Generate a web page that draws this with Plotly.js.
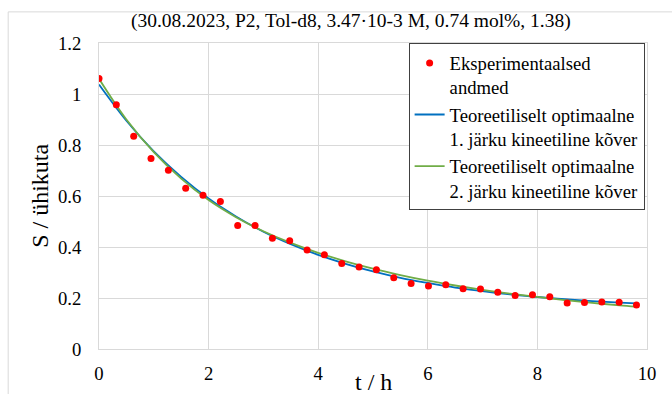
<!DOCTYPE html>
<html>
<head>
<meta charset="utf-8">
<script src="https://cdn.plot.ly/plotly-3.0.1.min.js"></script>
<style>html,body{margin:0;padding:0;background:#fff;}#chart{width:672px;height:394px;}</style>
</head>
<body>
<div id="chart"></div>
<script>
// Experimental data
var tData = [0, 0.316, 0.633, 0.949, 1.266, 1.582, 1.898, 2.215, 2.531, 2.848, 3.164, 3.48, 3.797, 4.113, 4.43, 4.746,
             5.062, 5.379, 5.695, 6.012, 6.328, 6.644, 6.961, 7.277, 7.594, 7.91, 8.226, 8.543, 8.859, 9.176, 9.492, 9.808];
var sData = [1.061, 0.958, 0.834, 0.747, 0.701, 0.630, 0.603, 0.578, 0.484, 0.484, 0.434, 0.425, 0.388, 0.370, 0.335, 0.322,
             0.311, 0.279, 0.257, 0.247, 0.252, 0.236, 0.235, 0.223, 0.210, 0.213, 0.205, 0.180, 0.182, 0.184, 0.183, 0.173];
// Fitted curves
var tFit = [0, 0.5, 1, 1.5, 2, 2.5, 3, 3.5, 4, 4.5, 5, 5.5, 6, 6.5, 7, 7.5, 8, 8.5, 9, 9.5, 9.8];
var sFirst = [1.037, 0.895, 0.775, 0.675, 0.590, 0.520, 0.460, 0.411, 0.369, 0.334, 0.304, 0.279, 0.259, 0.241, 0.227, 0.214, 0.204, 0.195, 0.188, 0.182, 0.179];
var sSecond = [1.060, 0.900, 0.772, 0.668, 0.584, 0.517, 0.462, 0.416, 0.377, 0.344, 0.315, 0.290, 0.268, 0.249, 0.232, 0.217, 0.204, 0.192, 0.181, 0.171, 0.166];
var xTicks = [0, 2, 4, 6, 8, 10];
var yTicks = [0, 0.2, 0.4, 0.6, 0.8, 1, 1.2];
var yTickText = ['0', '0.2', '0.4', '0.6', '0.8', '1', '1.2'];

var names = ['Eksperimentaalsed<br>andmed', 'Teoreetiliselt optimaalne<br>1. järku kineetiline kõver', 'Teoreetiliselt optimaalne<br>2. järku kineetiline kõver'];
var titleText = '(30.08.2023, P2, Tol-d8, 3.47·10-3 M, 0.74 mol%, 1.38)';

var FONT = '"Liberation Serif", serif';

var traces = [
  {x: tFit, y: sFirst, type: 'scatter', mode: 'lines', name: names[1], legendrank: 2,
   line: {color: '#0070C0', width: 1.8, shape: 'spline'}, hoverinfo: 'skip'},
  {x: tFit, y: sSecond, type: 'scatter', mode: 'lines', name: names[2], legendrank: 3,
   line: {color: '#70AD47', width: 1.8, shape: 'spline'}, hoverinfo: 'skip'},
  {x: tData, y: sData, type: 'scatter', mode: 'markers', name: names[0], legendrank: 1,
   marker: {color: '#FF0000', size: 7, symbol: 'circle'}}
];

var layout = {
  width: 672, height: 394,
  margin: {l: 99, r: 25, t: 43, b: 44.5},
  paper_bgcolor: '#ffffff', plot_bgcolor: '#ffffff',
  font: {family: FONT, size: 18.67, color: '#000000'},
  showlegend: true,
  legend: {x: 0.565, y: 0.999, xanchor: 'left', yanchor: 'top', bgcolor: '#ffffff',
           bordercolor: '#404040', borderwidth: 1, valign: 'top',
           font: {family: FONT, size: 18.67, color: '#000'}},
  xaxis: {range: [0, 10], tickvals: xTicks, ticktext: xTicks.map(String), showgrid: true, gridcolor: '#d9d9d9',
          zeroline: false, showline: true, linecolor: '#d9d9d9', mirror: true,
          ticks: 'outside', ticklen: 8, tickcolor: 'rgba(0,0,0,0)', tickfont: {family: FONT, size: 18.67, color: '#000'}},
  yaxis: {range: [0, 1.2], tickvals: yTicks, ticktext: yTickText, showgrid: true, gridcolor: '#d9d9d9',
          zeroline: false, showline: true, linecolor: '#d9d9d9', mirror: true,
          ticks: 'outside', ticklen: 13, tickcolor: 'rgba(0,0,0,0)', tickfont: {family: FONT, size: 18.67, color: '#000'}},
  annotations: [
    {text: titleText, xref: 'paper', yref: 'paper', x: 0.459, y: 1.071, xanchor: 'center', yanchor: 'middle',
     showarrow: false, font: {family: FONT, size: 19.5, color: '#000'}},
    {text: 'S / ühikuta', xref: 'paper', yref: 'paper', x: -0.108, y: 0.5, xanchor: 'center', yanchor: 'middle',
     textangle: -90, showarrow: false, font: {family: FONT, size: 24, color: '#000'}},
    {text: 't / h', xref: 'paper', yref: 'paper', x: 0.5, y: -0.108, xanchor: 'center', yanchor: 'middle',
     showarrow: false, font: {family: FONT, size: 24, color: '#000'}}
  ],
  shapes: [
    {type: 'rect', xref: 'paper', yref: 'paper', x0: -0.1657, x1: 1.3, y0: -0.5, y1: 1.1017,
     line: {color: '#d9d9d9', width: 1}, fillcolor: 'rgba(0,0,0,0)', layer: 'below'}
  ]
};

Plotly.newPlot('chart', traces, layout, {displayModeBar: false, staticPlot: true});
</script>
</body>
</html>
